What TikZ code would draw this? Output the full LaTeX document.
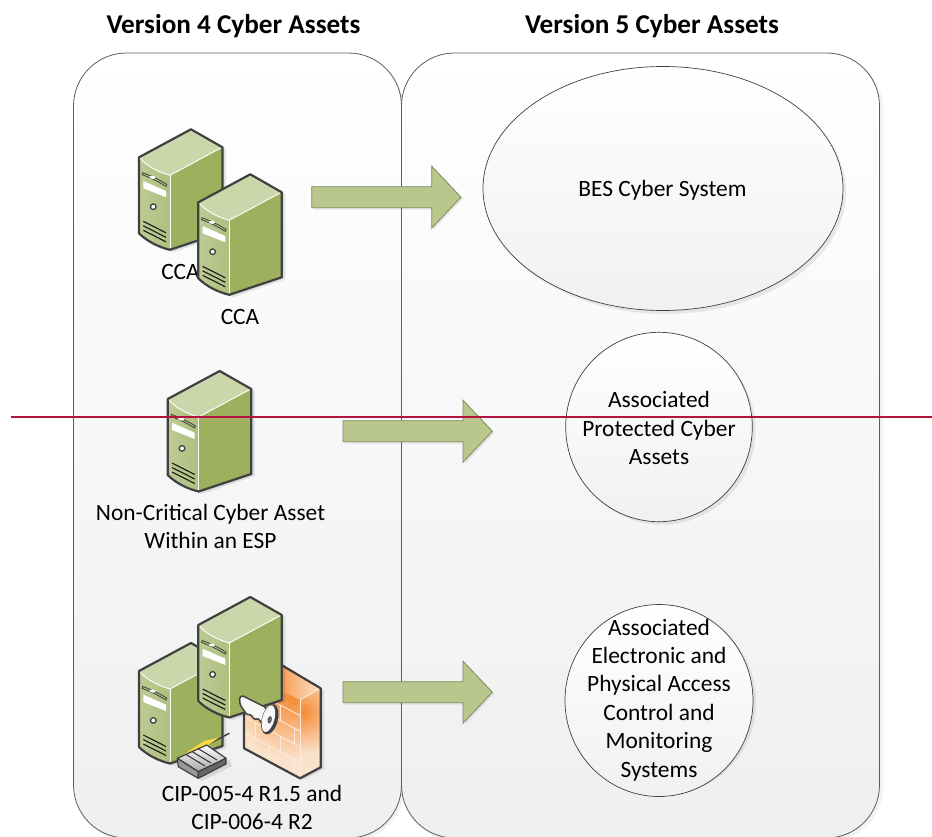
\documentclass[tikz,border=0pt]{standalone}
\usepackage{fontspec}
\setmainfont{Carlito}
\usetikzlibrary{calc}
\definecolor{outl}{HTML}{404040}
\definecolor{srvtop}{HTML}{CBD6AB}
\definecolor{srvfrontA}{HTML}{BCCB94}
\definecolor{srvfrontB}{HTML}{AEBF7E}
\definecolor{srvside}{HTML}{9CB05E}
\definecolor{arrowfill}{HTML}{B9C68C}
\definecolor{arrowline}{HTML}{7F8B5C}
\definecolor{panelbot}{HTML}{EFEFEF}
\definecolor{redline}{HTML}{B5123E}
\definecolor{brick}{HTML}{FCEBDC}
\definecolor{fwA}{HTML}{F68A33}
\definecolor{fwB}{HTML}{F8D3B0}
\definecolor{fwC}{HTML}{FAE3CC}
\tikzset{
  panel/.style={draw=outl!85,line width=0.8pt,rounded corners=53pt,top color=white,bottom color=panelbot},
  panelshadow/.style={fill=black,opacity=.05,rounded corners=53pt,draw=none},
  blob/.style={draw=outl,line width=0.7pt,top color=white,bottom color=panelbot!90!white},
  lbl/.style={inner sep=0pt,align=center,text=black,font=\fontsize{23.4}{28.5}\selectfont},
  ttl/.style={inner sep=0pt,text=black,font=\fontsize{27.2}{30}\selectfont\bfseries},
  server/.pic={
    \fill[black,opacity=.10] (3,2)--(55,-26)--(87,-8)--(87,77)--(34,95)--(3,78)--cycle;
    \fill[srvside] (31,18)--(83.5,-10)--(83.5,75)--(31,92.5)--cycle;
    \path[left color=srvfrontA,right color=srvfrontB] (0,0) .. controls (8,9) and (20,15) .. (31,18) -- (31,92.5) .. controls (20,90) and (8,84) .. (0,76) -- cycle;
    \fill[srvtop] (0,0)--(52,-28)--(83.5,-10)--(31,18) .. controls (20,15) and (8,9) .. (0,0) -- cycle;
    \draw[white,line width=0.9pt] (1,1) .. controls (8,9) and (20,15) .. (31,18) -- (83,-10);
    \draw[white,line width=0.9pt] (31,18) -- (31,91);
    \fill[white] (4.3,23.7)--(27,33.7)--(27,40)--(4.3,31)--cycle;
    \draw[outl,line width=0.8pt,fill=srvfrontB] (3.7,15.4) to[bend left=5] (27.7,27) -- (27,29) to[bend right=5] (3.2,17.4) -- cycle;
    \fill[white] (13.5,20) ellipse (3 and 1.5);
    \draw[outl,line width=1.3pt,fill=white] (14.3,49.4) circle (2.8);
    \draw[black!90,line width=1.1pt] (4.3,64) -- (27,75.5) (4.3,68.5) -- (27,80) (4.3,73) -- (27,84.5);
    \draw[outl,line width=2.2pt,line join=round] (0,0)--(52,-28)--(83.5,-10)--(83.5,75)--(31,92.5) .. controls (20,90) and (8,84) .. (0,76) -- cycle;
  },
  bigarrow/.pic={
    \fill[black,opacity=.08] (2,2)--(122,2)--(122,-18)--(151.5,12)--(122,43)--(122,23)--(2,23)--cycle;
    \draw[draw=arrowline,fill=arrowfill,line width=0.8pt,line join=miter] (0,0)--(120,0)--(120,-20.5)--(149.3,10.5)--(120,41.5)--(120,21)--(0,21)--cycle;
  },
}
\begin{document}
\begin{tikzpicture}[x=1pt,y=-1pt]
\useasboundingbox (0,0) rectangle (932,836);
\clip (0,0) rectangle (932,836);
\fill[white] (0,0) rectangle (932,836);
% panels
\path[panelshadow] (404,56) rectangle (883,841);
\path[panelshadow] (76,56) rectangle (404,841);
\path[panel] (401.5,53) rectangle (879.5,838);
\path[panel] (73.5,53) rectangle (401.5,838);
% titles
\node[ttl] (t4) at (233.5,26) {Version 4 Cyber Assets};
\node[ttl] (t5) at (652,26) {Version 5 Cyber Assets};
% targets
\path[black,opacity=.08,fill] (666,192) ellipse (180 and 122);
\path[black,opacity=.08,fill] (662,430) ellipse (93.5 and 94.7);
\path[black,opacity=.08,fill] (662,702) ellipse (94 and 94);
\path[blob] (663,188.5) ellipse (180 and 122);
\path[blob] (659,427) ellipse (93.3 and 94.7);
\path[blob] (659,700.5) ellipse (94 and 96);
\node[lbl] (bes) at (662.5,190) {BES Cyber System};
\node[lbl] (apc) at (659,428) {Associated\\Protected Cyber\\Assets};
\node[lbl] (eac) at (659,700) {Associated\\Electronic and\\Physical Access\\Control and\\Monitoring\\Systems};
% arrows
\pic at (311.7,186.7) {bigarrow};
\pic at (343,420.7) {bigarrow};
\pic at (343,681.7) {bigarrow};
% group 1
\pic at (139,157.3) {server};
\node[lbl] (cca1) at (180.5,272) {CCA};
\pic at (198.3,202.3) {server};
\node[lbl] (cca2) at (240,317) {CCA};
% group 2
\pic at (167.7,399) {server};
\node[lbl] (ncca) at (210.5,526.5) {Non-Critical Cyber Asset\\Within an ESP};
% group 3: firewall
\coordinate (fL) at (244,670);
\coordinate (fF) at (300,700);
\coordinate (fR) at (320.7,688.3);
\coordinate (fB) at (264.7,655);
\fill[black,opacity=.10] (248,750)--(303,780)--(324,769)--(324,690)--(248,690)--cycle;
\begin{scope}
  \clip (fL)--(fF)--(300,778.3)--(244,748.3)--cycle;
  \fill[fwC] (240,650) rectangle (305,785);
  \shade[inner color=fwA,outer color=fwC] (292,697) circle (62);
\end{scope}
\begin{scope}
  \clip (fF)--(fR)--(320.7,767.3)--(300,778.3)--cycle;
  \fill[fwC] (295,680) rectangle (325,785);
  \shade[inner color=fwA,outer color=fwC] (303,712) circle (42);
\end{scope}
\begin{scope}
  \clip (fL)--(fB)--(fR)--(fF)--cycle;
  \shade[left color=fwA,right color=fwC] (270,650) rectangle (321,705);
\end{scope}
\foreach \v in {0.2,0.4,0.6,0.8}{
  \draw[brick,line width=0.9pt] ($(244,670)+(0,78*\v)$) -- ($(300,700)+(0,78*\v)$);
}
\foreach \u/\v/\w in {0.2/0.2/0.4,0.65/0.2/0.4,0.45/0.4/0.6,0.9/0.4/0.6,0.2/0.6/0.8,0.65/0.6/0.8,0.45/0.8/1,0.9/0.8/1}{
  \draw[brick,line width=0.9pt] ($(244,670)+(56*\u,30*\u+78*\v)$) -- ($(244,670)+(56*\u,30*\u+78*\w)$);
}
\draw[brick,line width=0.8pt] (fF)--(300,778);
\draw[brick,line width=0.8pt] (fF)--(fR);
\draw[outl,line width=2.2pt,line join=round] (fL)--(244,748.3)--(300,778.3)--(320.7,767.3)--(fR)--(fB);
% servers
\pic at (139,671) {server};
\pic at (198.3,625) {server};
% router
\fill[black,opacity=.10] (182,768)--(202,781)--(232,766)--(230,760)--cycle;
\draw[outl,line width=1.4pt] (206.7,745)--(229.3,733.3);
\fill[yellow!65!orange!75!white,draw=none] (183,755)--(204,741)--(219,737.5)--(207,746)--(192,757)--cycle;
\path[top color=white,bottom color=black!35,draw=outl,line width=1.2pt,line join=round] (177.3,758.3)--(206.7,745)--(226,758.3)--(198.3,771.7)--cycle;
\draw[black!80,line width=1pt] (186,754.5)--(205,766) (192,751.5)--(211,763) (198,748.5)--(217,760);
\path[fill=black!40,draw=outl,line width=1.2pt,line join=round] (177.3,758.3)--(198.3,771.7)--(198.3,778.3)--(178.3,766.7)--cycle;
\path[fill=black!60,draw=outl,line width=1.2pt,line join=round] (198.3,771.7)--(226,758.3)--(226,764)--(198.3,778.3)--cycle;
% key
\path[fill=black!3,draw=outl,line width=1.5pt,line join=round,rounded corners=1.5pt] (239.5,697.5)--(242,695.5)--(266,707.5)--(268,722)--(262,724)--(258,718)--(255,720)--(250,714)--(247,715)--(240,704.5)--cycle;
\begin{scope}[shift={(269.8,719.3)},rotate=-15]
  \path[fill=outl] (0,0) ellipse (8 and 15.5);
  \path[fill=black!3] (-1.5,-0.3) ellipse (6 and 13.8);
  \path[fill=black!55,draw=outl,line width=0.8pt] (0,0.5) ellipse (1.6 and 3.2);
\end{scope}
% labels group 3
\node[lbl] (cip) at (252,807.5) {CIP-005-4 R1.5 and\\CIP-006-4 R2};
% red line
\coordinate (ra) at (11,417);
\coordinate (rb) at (932,417);
\draw[redline,line width=1.6pt] (ra)--(rb);
\end{tikzpicture}
\end{document}
